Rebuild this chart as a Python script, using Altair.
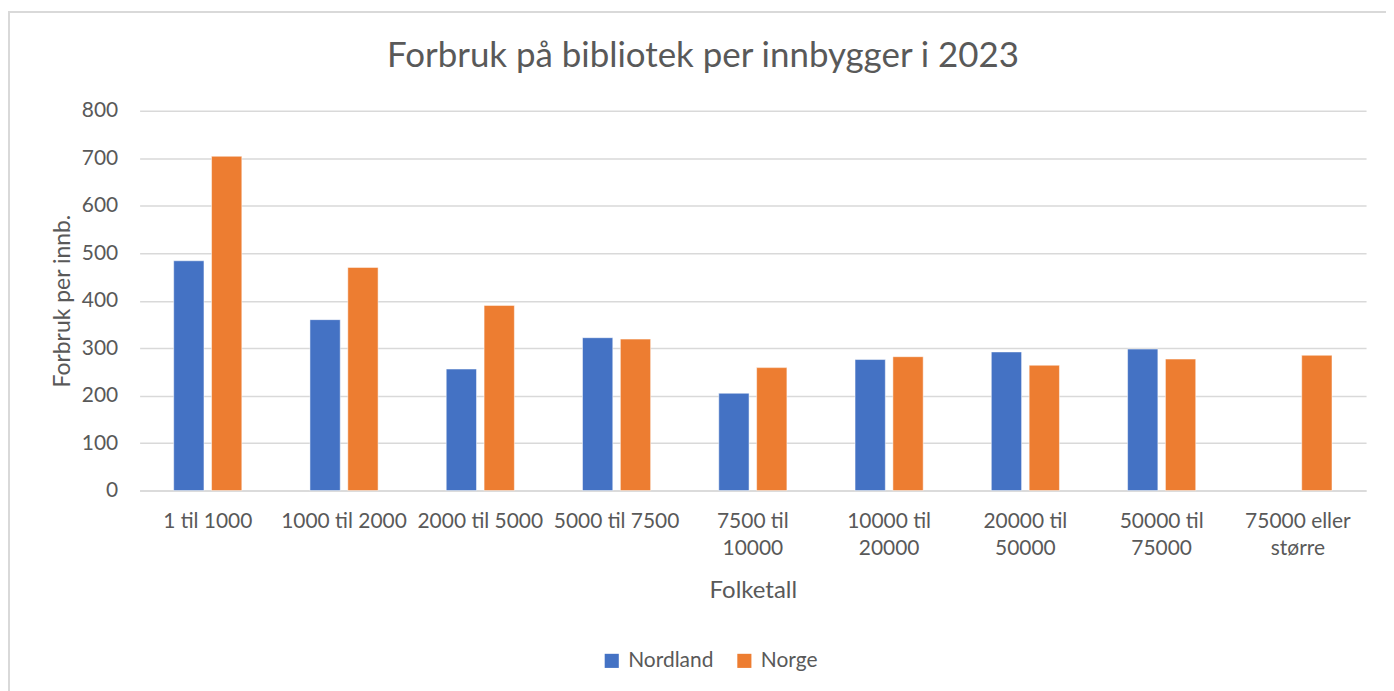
import altair as alt
import pandas as pd

categories = ["1 til 1000", "1000 til 2000", "2000 til 5000", "5000 til 7500",
              "7500 til|10000", "10000 til|20000", "20000 til|50000",
              "50000 til|75000", "75000 eller|større"]
nordland = [484, 360, 256, 322, 205, 276, 292, 298, None]
norge = [704, 470, 390, 319, 259, 282, 264, 277, 285]
series = ["Nordland", "Norge"]
colors = ["#4472C4", "#ED7D31"]
title_text = "Forbruk på bibliotek per innbygger i 2023"

rows = []
for c, a, b in zip(categories, nordland, norge):
    if a is not None:
        rows.append({"cat": c, "serie": "Nordland", "v": a})
    if b is not None:
        rows.append({"cat": c, "serie": "Norge", "v": b})
df = pd.DataFrame(rows)

FONT = "Lato"
GREY = "#595959"

bars = alt.Chart(df).mark_bar(stroke="white", strokeWidth=0.5).encode(
    x=alt.X("cat:N", sort=categories,
            scale=alt.Scale(paddingInner=0.5, paddingOuter=0.25),
            axis=alt.Axis(title="Folketall", labelAngle=0,
                          labelExpr="split(datum.value, '|')",
                          labelLineHeight=27, labelPadding=20,
                          labelFontSize=21, titleFontSize=24,
                          titlePadding=20, ticks=False,
                          domainColor="#d9d9d9", domainWidth=1.5,
                          labelColor=GREY, titleColor=GREY,
                          labelFont=FONT, titleFont=FONT, titleFontWeight="normal")),
    xOffset=alt.XOffset("serie:N", sort=series,
                        scale=alt.Scale(paddingInner=0.2)),
    y=alt.Y("v:Q", scale=alt.Scale(domain=[0, 800]),
            axis=alt.Axis(title="Forbruk per innb.", values=list(range(0, 801, 100)),
                          labelFontSize=21, titleFontSize=23, labelPadding=22,
                          titlePadding=7, ticks=False, domain=False,
                          gridColor="#d9d9d9", gridWidth=1.5,
                          labelColor=GREY, titleColor=GREY,
                          labelFont=FONT, titleFont=FONT, titleFontWeight="normal")),
    color=alt.Color("serie:N", sort=series,
                    scale=alt.Scale(domain=series, range=colors),
                    legend=alt.Legend(title=None, orient="none", direction="horizontal",
                                      legendX=463, legendY=541,
                                      symbolType="square", symbolSize=200,
                                      symbolStrokeWidth=0,
                                      labelFontSize=21, labelColor=GREY, labelFont=FONT,
                                      columnPadding=20, labelOffset=6)),
)

one = pd.DataFrame({"a": [0]})
frame = alt.Chart(one).mark_rect(
    fill=None, stroke="#d9d9d9", strokeWidth=2, clip=False
).encode(x=alt.value(-131), x2=alt.value(1270), y=alt.value(-99), y2=alt.value(700))

title = alt.Chart(one).mark_text(
    text=title_text, font=FONT, fontSize=35, color=GREY,
    align="center", baseline="middle", clip=False
).encode(x=alt.value(565), y=alt.value(-55))

chart = alt.layer(frame, bars, title).properties(
    width=1230, height=381,
    autosize=alt.AutoSizeParams(type="none"),
    padding={"left": 132, "top": 102, "right": 20, "bottom": 210},
).configure_view(stroke=None)

chart.save("out.html", embed_options={"renderer": "svg", "actions": False})
